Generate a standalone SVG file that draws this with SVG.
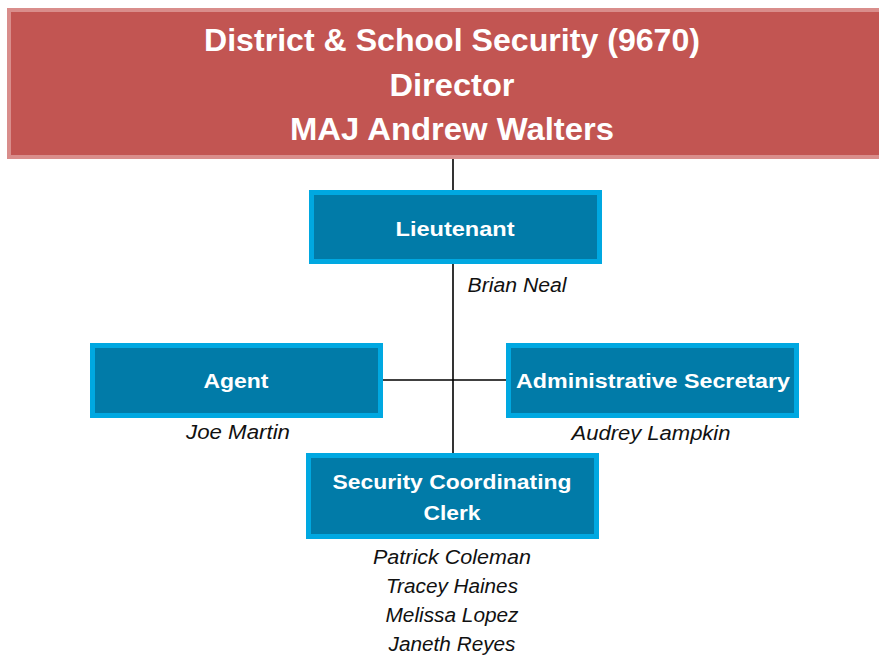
<svg xmlns="http://www.w3.org/2000/svg" width="879" height="657" viewBox="0 0 879 657">
<style>
.banner{fill:#c25552;stroke:#d98d8b;stroke-width:4}
.box{fill:#017ba8;stroke:#00a8e1;stroke-width:5}
.t{font-family:"Liberation Sans",Arial,sans-serif;font-weight:bold;fill:#fff;text-anchor:middle}
.h{font-size:31px}
.b{font-size:21px}
.n{font-family:"Liberation Sans",Arial,sans-serif;font-style:italic;font-size:20px;fill:#111;text-anchor:middle}
.c{stroke:#000;stroke-width:1.6;fill:none}
</style>
<rect width="879" height="657" fill="#fff"/>
<g id="connectors">
<line class="c" x1="453" y1="158" x2="453" y2="455"/>
<line class="c" x1="381" y1="380" x2="508" y2="380"/>
</g>
<g id="director">
<rect class="banner" x="9" y="10" width="874" height="147"/>
<text class="t h" x="452" y="51" textLength="496" lengthAdjust="spacingAndGlyphs">District &amp; School Security (9670)</text>
<text class="t h" x="452" y="96" textLength="125" lengthAdjust="spacingAndGlyphs">Director</text>
<text class="t h" x="452" y="140" textLength="324" lengthAdjust="spacingAndGlyphs">MAJ Andrew Walters</text>
</g>
<g id="lieutenant">
<rect class="box" x="311.5" y="192.5" width="288" height="69"/>
<text class="t b" x="455" y="236" textLength="119" lengthAdjust="spacingAndGlyphs">Lieutenant</text>
<text class="n" x="517" y="292" textLength="99" lengthAdjust="spacingAndGlyphs">Brian Neal</text>
</g>
<g id="agent">
<rect class="box" x="92.5" y="345.5" width="288" height="70"/>
<text class="t b" x="236" y="388" textLength="65" lengthAdjust="spacingAndGlyphs">Agent</text>
<text class="n" x="238" y="439" textLength="104" lengthAdjust="spacingAndGlyphs">Joe Martin</text>
</g>
<g id="admin-secretary">
<rect class="box" x="508.5" y="345.5" width="288" height="70"/>
<text class="t b" x="653" y="388" textLength="274" lengthAdjust="spacingAndGlyphs">Administrative Secretary</text>
<text class="n" x="651" y="440" textLength="159" lengthAdjust="spacingAndGlyphs">Audrey Lampkin</text>
</g>
<g id="clerk">
<rect class="box" x="308.5" y="455.5" width="288" height="81"/>
<text class="t b" x="452" y="489" textLength="239" lengthAdjust="spacingAndGlyphs">Security Coordinating</text>
<text class="t b" x="452" y="520" textLength="57" lengthAdjust="spacingAndGlyphs">Clerk</text>
<text class="n" x="452" y="564" textLength="158" lengthAdjust="spacingAndGlyphs">Patrick Coleman</text>
<text class="n" x="452" y="593" textLength="132" lengthAdjust="spacingAndGlyphs">Tracey Haines</text>
<text class="n" x="452" y="622" textLength="133" lengthAdjust="spacingAndGlyphs">Melissa Lopez</text>
<text class="n" x="452" y="651" textLength="127" lengthAdjust="spacingAndGlyphs">Janeth Reyes</text>
</g>
</svg>
